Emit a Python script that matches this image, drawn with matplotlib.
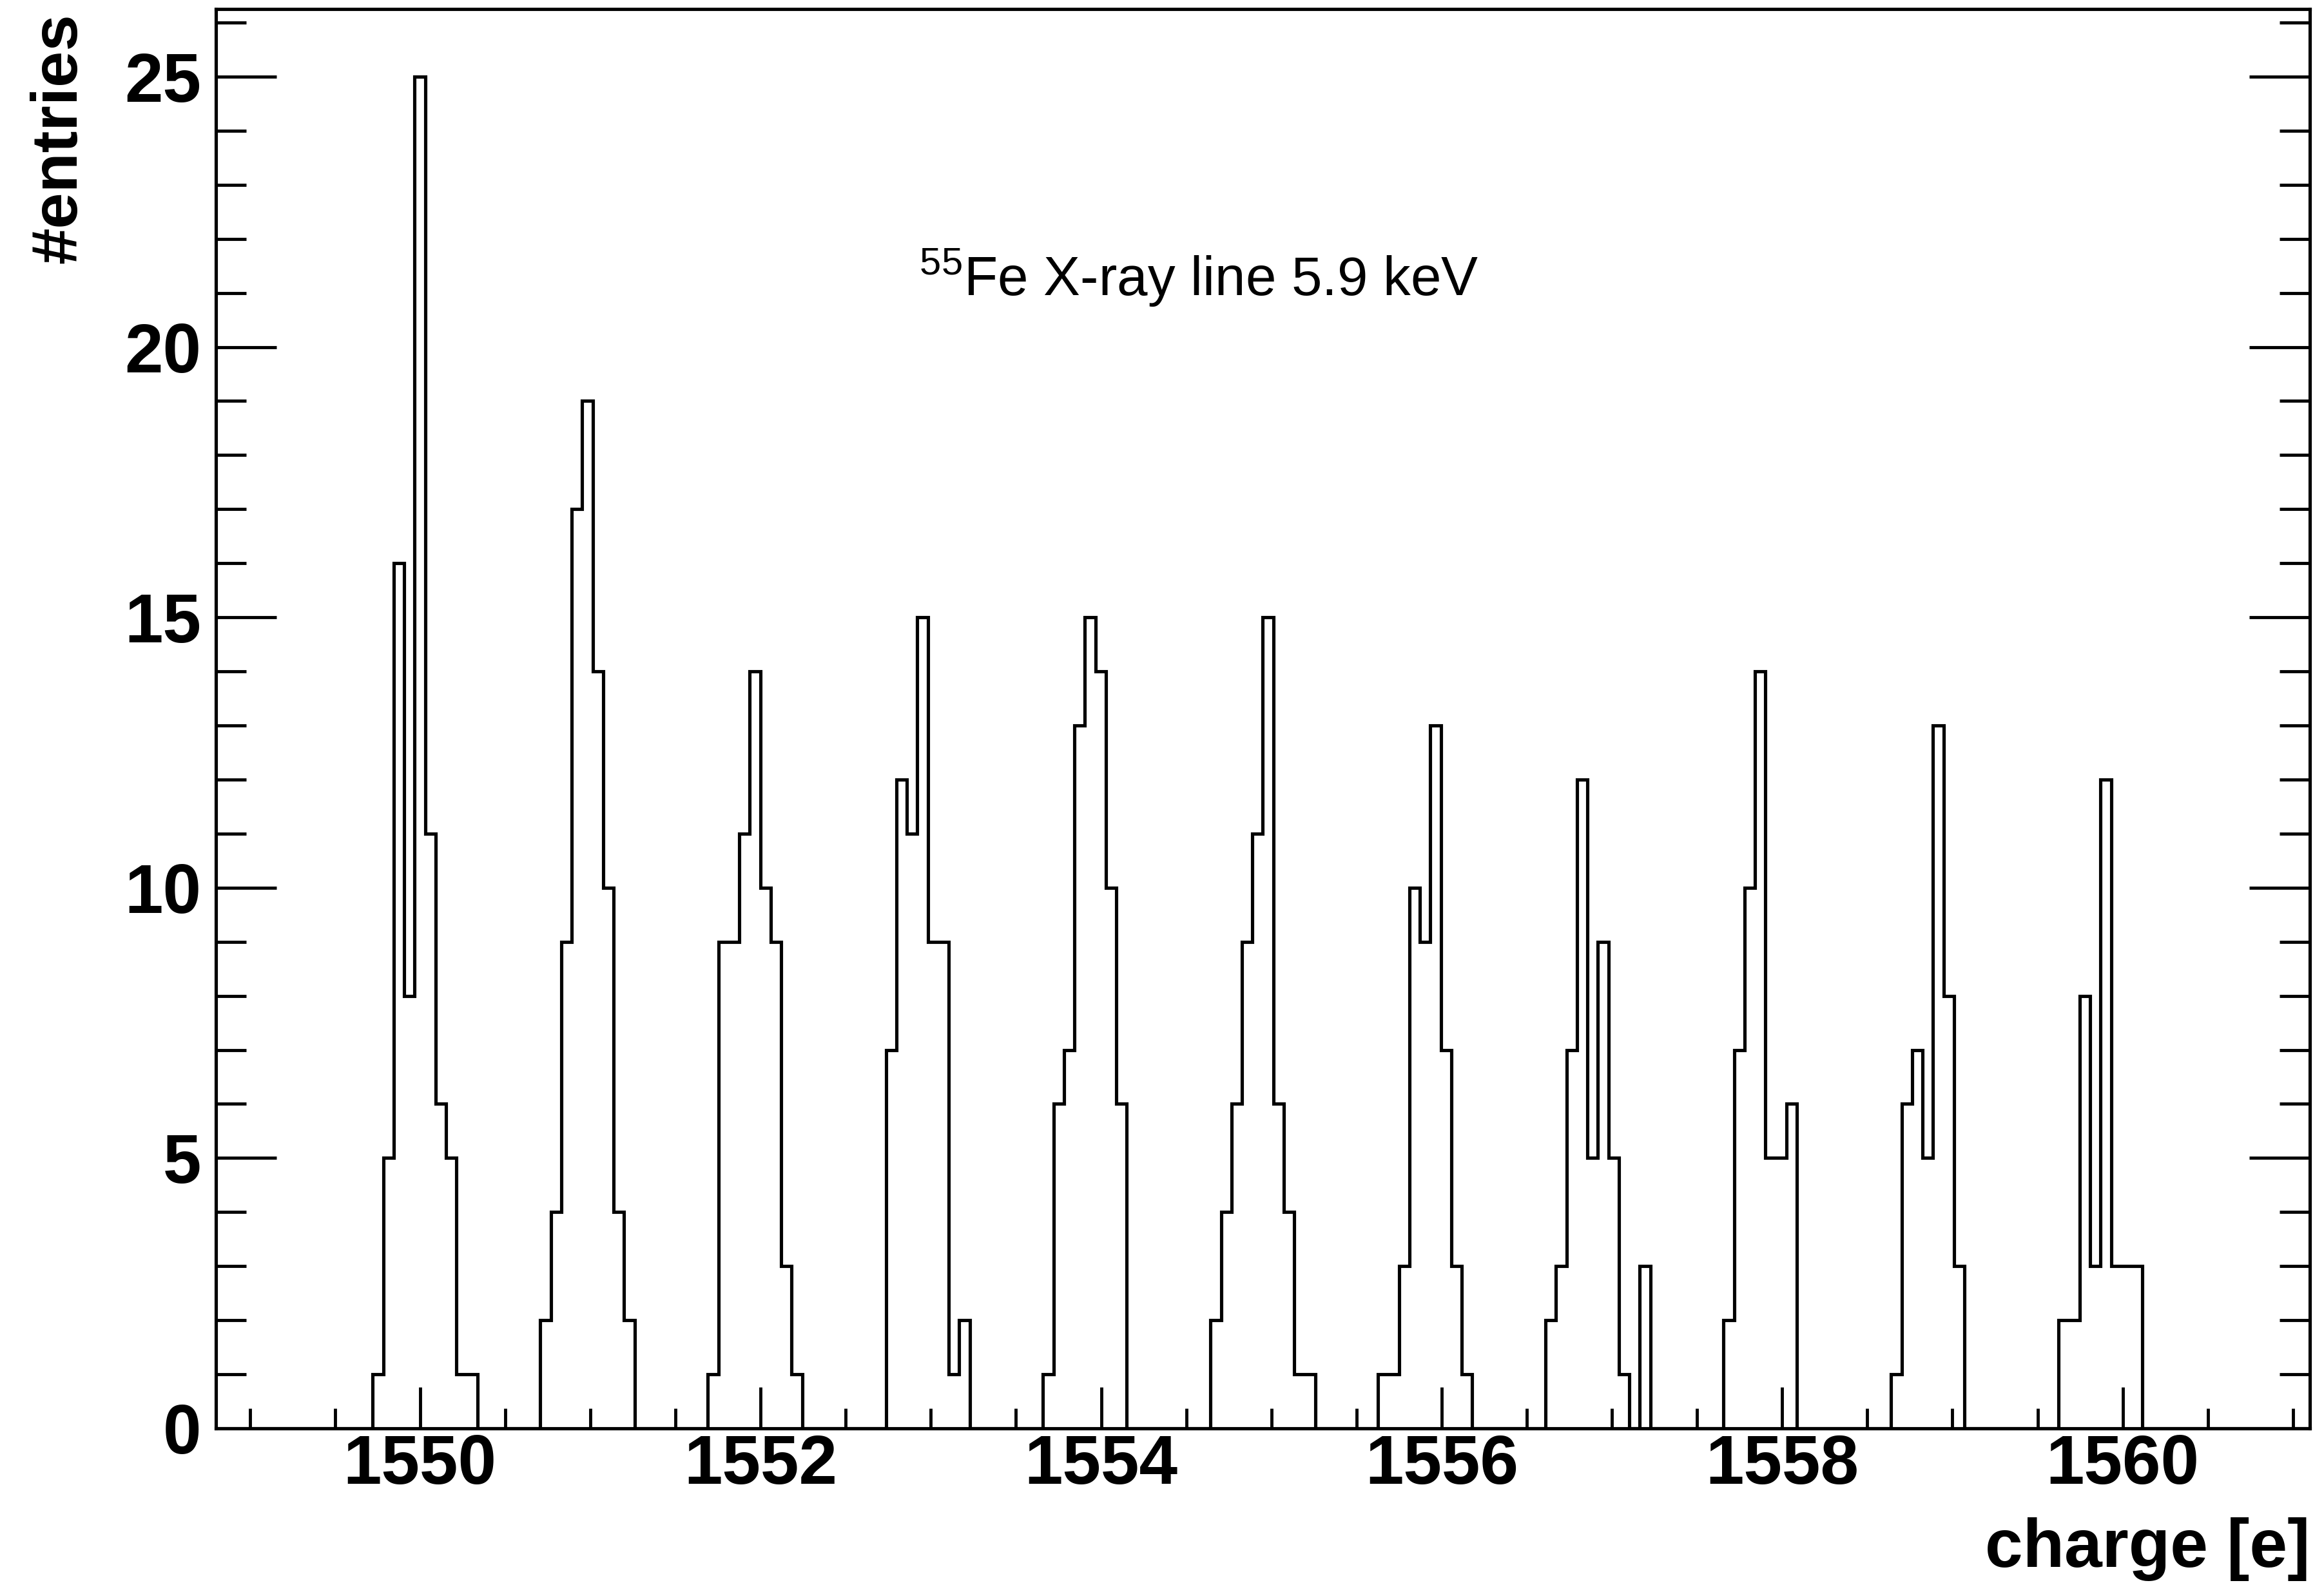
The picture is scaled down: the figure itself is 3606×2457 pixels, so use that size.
import numpy as np
import matplotlib
matplotlib.use("Agg")
import matplotlib.pyplot as plt
from matplotlib.ticker import MultipleLocator

# histogram binning (200 bins)
x_min = 1548.8
x_max = 1561.1
n_bins = 200

# entries per bin, 20 bins per row
counts = [
    0, 0, 0, 0, 0, 0, 0, 0, 0, 0, 0, 0, 0, 0, 0, 1, 5, 16, 8, 25,
    11, 6, 5, 1, 1, 0, 0, 0, 0, 0, 0, 2, 4, 9, 17, 19, 14, 10, 4, 2,
    0, 0, 0, 0, 0, 0, 0, 1, 9, 9, 11, 14, 10, 9, 3, 1, 0, 0, 0, 0,
    0, 0, 0, 0, 7, 12, 11, 15, 9, 9, 1, 2, 0, 0, 0, 0, 0, 0, 0, 1,
    6, 7, 13, 15, 14, 10, 6, 0, 0, 0, 0, 0, 0, 0, 0, 2, 4, 6, 9, 11,
    15, 6, 4, 1, 1, 0, 0, 0, 0, 0, 0, 1, 1, 3, 10, 9, 13, 7, 3, 1,
    0, 0, 0, 0, 0, 0, 0, 2, 3, 7, 12, 5, 9, 5, 1, 0, 3, 0, 0, 0,
    0, 0, 0, 0, 2, 7, 10, 14, 5, 5, 6, 0, 0, 0, 0, 0, 0, 0, 0, 0,
    1, 6, 7, 5, 13, 8, 3, 0, 0, 0, 0, 0, 0, 0, 0, 0, 2, 2, 8, 3,
    12, 3, 3, 3, 0, 0, 0, 0, 0, 0, 0, 0, 0, 0, 0, 0, 0, 0, 0, 0,
]

x_label = "charge [e]"
y_label = "#entries"
note = r"$^{55}$Fe X-ray line 5.9 keV"

plt.rcParams['mathtext.fontset'] = 'custom'
plt.rcParams['mathtext.rm'] = 'Liberation Sans'
plt.rcParams['font.family'] = ['Liberation Sans', 'DejaVu Sans']

W, H = 3606, 2457
fig = plt.figure(figsize=(W / 100, H / 100), dpi=100)

#axes frame in pixels of the picture
left, right, bottom, top = 334.7, 3584.3, 2217, 14
ax = fig.add_axes([left / W, 1 - bottom / H, (right - left) / W, (bottom - top) / H])

edges = np.linspace(x_min, x_max, n_bins + 1)
ax.stairs(counts, edges, color='black', linewidth=3.7, baseline=0)

ax.set_xlim(x_min, x_max)
ax.set_ylim(0, max(counts) * 1.05)

ax.xaxis.set_major_locator(MultipleLocator(2))
ax.xaxis.set_minor_locator(MultipleLocator(0.5))
ax.yaxis.set_major_locator(MultipleLocator(5))
ax.yaxis.set_minor_locator(MultipleLocator(1))

for s in ax.spines.values():
    s.set_linewidth(3.7)

ax.tick_params(axis='both', which='both', direction='in', width=3.5, labelsize=77)
ax.tick_params(axis='x', which='major', length=46, pad=6)
ax.tick_params(axis='x', which='minor', length=22)
ax.tick_params(axis='y', which='major', length=68, pad=16, right=True)
ax.tick_params(axis='y', which='minor', length=34, right=True)
for lab in ax.get_xticklabels() + ax.get_yticklabels():
    lab.set_fontweight('bold')

fig.text(right / W, 1 - 2432 / H, x_label, ha='right', va='baseline',
         fontsize=76, fontweight='bold')
fig.text(92 / W, 1 - 20 / H, y_label, ha='center', va='top', rotation=90,
         fontsize=73, fontweight='bold')
fig.text(1426 / W, 1 - 460 / H, note, ha='left', va='baseline', fontsize=61.5)

fig.savefig("out.png", dpi=100)
